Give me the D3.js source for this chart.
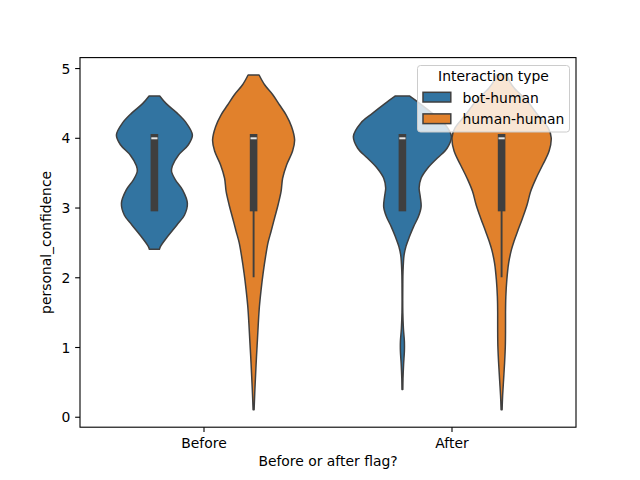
<!DOCTYPE html>
<html>
<head>
<meta charset="utf-8">
<script src="https://cdn.jsdelivr.net/npm/d3@7"></script>
<style>
  body { margin: 0; background: #fff; }
  svg text { font-family: "DejaVu Sans", sans-serif; }
</style>
</head>
<body>
<svg id="viz" width="640" height="480"></svg>
<script>
/* Data */

const groups = ['Before', 'After'];
const hues = ['bot-human', 'human-human'];
const yTicks = [0, 1, 2, 3, 4, 5];

// violin profiles: [value, relative density]
const beforeBot = [
  [4.60, 0.107], [4.49, 0.238], [4.35, 0.464], [4.21, 0.645], [4.04, 0.766],
  [3.90, 0.685], [3.75, 0.484], [3.60, 0.363], [3.52, 0.345], [3.40, 0.42],
  [3.25, 0.57], [3.06, 0.665], [2.89, 0.605], [2.75, 0.454], [2.58, 0.262],
  [2.44, 0.121], [2.40, 0.101],
];
const beforeHuman = [
  [4.90, 0.111], [4.76, 0.222], [4.62, 0.383], [4.47, 0.524], [4.33, 0.655],
  [4.16, 0.766], [3.97, 0.827], [3.81, 0.786], [3.61, 0.665], [3.42, 0.585],
  [3.23, 0.554], [3.04, 0.494], [2.85, 0.423], [2.66, 0.353], [2.50, 0.292],
  [2.30, 0.242], [2.06, 0.192], [1.82, 0.151], [1.58, 0.117], [1.34, 0.095],
  [1.10, 0.077], [0.86, 0.058], [0.63, 0.042], [0.39, 0.026], [0.10, 0.010],
];
const afterBot = [
  [4.60, 0.141], [4.49, 0.353], [4.35, 0.605], [4.21, 0.841], [4.02, 0.988],
  [3.85, 0.901], [3.71, 0.706], [3.56, 0.504], [3.42, 0.377], [3.28, 0.337],
  [3.16, 0.359], [3.01, 0.377], [2.87, 0.323], [2.73, 0.228], [2.58, 0.141],
  [2.44, 0.071], [2.32, 0.034], [2.08, 0.012], [1.90, 0.008], [1.50, 0.008],
  [1.27, 0.02], [1.08, 0.04], [0.94, 0.04], [0.75, 0.024], [0.55, 0.012],
  [0.39, 0.008],
];
const afterHuman = [
  [4.90, 0.111], [4.81, 0.161], [4.71, 0.258], [4.52, 0.524], [4.33, 0.726],
  [4.14, 0.942], [4.00, 1.0], [3.81, 0.958], [3.61, 0.827], [3.42, 0.696],
  [3.23, 0.585], [3.04, 0.514], [2.85, 0.423], [2.66, 0.323], [2.52, 0.252],
  [2.40, 0.2], [2.20, 0.141], [1.96, 0.105], [1.72, 0.085], [1.49, 0.079],
  [1.25, 0.079], [1.01, 0.075], [0.77, 0.06], [0.53, 0.04], [0.29, 0.02],
  [0.10, 0.01],
];

// box stats per violin (Before bot, Before human, After bot, After human)
const q1 = [3, 3, 3, 3];
const medians = [4, 4, 4, 4];
const q3 = [4, 4, 4, 4];
const whiskerLow = [3, 2, 3, 2];
const whiskerHigh = [4, 4, 4, 4];

const violins = [
  { group: 'Before', hue: 'bot-human', profile: beforeBot },
  { group: 'Before', hue: 'human-human', profile: beforeHuman },
  { group: 'After', hue: 'bot-human', profile: afterBot },
  { group: 'After', hue: 'human-human', profile: afterHuman },
].map((d, i) => ({ ...d, q1: q1[i], med: medians[i], q3: q3[i], lo: whiskerLow[i], hi: whiskerHigh[i] }));

/* Visualization */

const margin = { left: 80, right: 64, top: 57.6, bottom: 52.8 };
const width = 640 - margin.left - margin.right;
const height = 480 - margin.top - margin.bottom;

const svg = d3.select('#viz');
const fs = 13.9;
const lineColor = '#3f3f3f';

const colors = d3.scaleOrdinal().domain(hues).range(['#3274a1', '#e1812c']);

// prepare x scale
const xScale = d3.scaleBand().domain(groups).range([margin.left, margin.left + width]).padding(0);
const bw = xScale.bandwidth();

// hue dodge
const hueScale = d3.scaleBand().domain(hues).range([-0.4 * bw, 0.4 * bw]);
const wScale = d3.scaleLinear().domain([0, 1]).range([0, hueScale.bandwidth() / 2]);

// prepare y scale
const yScale = d3.scaleLinear().domain([-0.15, 5.15]).range([margin.top + height, margin.top]);

const cx = (d) => xScale(d.group) + bw / 2 + hueScale(d.hue) + hueScale.bandwidth() / 2;

// violins
const plot = svg.append('g');
violins.forEach((d) => {
  const c = cx(d);
  const area = d3
    .area()
    .curve(d3.curveCatmullRom)
    .y((p) => yScale(p[0]))
    .x0((p) => c - wScale(p[1]))
    .x1((p) => c + wScale(p[1]));

  plot
    .append('path')
    .attr('d', area(d.profile))
    .attr('fill', colors(d.hue))
    .attr('stroke', lineColor)
    .attr('stroke-width', 1.5)
    .attr('stroke-linejoin', 'round');

  // whisker
  plot
    .append('line')
    .attr('x1', c)
    .attr('x2', c)
    .attr('y1', yScale(d.lo))
    .attr('y2', yScale(d.hi))
    .attr('stroke', lineColor)
    .attr('stroke-width', 1.9);

  // box
  plot
    .append('line')
    .attr('x1', c)
    .attr('x2', c)
    .attr('y1', yScale(d.q1))
    .attr('y2', yScale(d.q3))
    .attr('stroke', lineColor)
    .attr('stroke-width', 7.6)
    .attr('stroke-linecap', 'square');

  // median
  plot
    .append('line')
    .attr('x1', c - 3.1)
    .attr('x2', c + 3.1)
    .attr('y1', yScale(d.med) + 0.5)
    .attr('y2', yScale(d.med) + 0.5)
    .attr('stroke', '#e6e6e6')
    .attr('stroke-width', 2);
});

// apply y axis
const yAxis = svg
  .append('g')
  .attr('transform', 'translate(' + margin.left + ',0)')
  .call(
    d3
      .axisLeft(yScale)
      .tickValues(yTicks)
      .tickFormat(d3.format('d'))
      .tickSize(4.86)
      .tickPadding(4.86)
      .tickSizeOuter(0)
  );

// apply x axis
const xAxis = svg
  .append('g')
  .attr('transform', 'translate(0,' + (margin.top + height) + ')')
  .call(d3.axisBottom(xScale).tickSize(4.86).tickPadding(4.86).tickSizeOuter(0));

[xAxis, yAxis].forEach((a) => {
  a.select('.domain').remove();
  a.selectAll('line').attr('stroke', '#000').attr('stroke-width', 1.1);
  a.selectAll('text').attr('font-size', fs).attr('fill', '#000').style('font-family', 'DejaVu Sans');
});
yAxis.selectAll('text').attr('dy', '0.36em');
xAxis.selectAll('text').attr('dy', '0.82em');

// frame
svg
  .append('rect')
  .attr('x', margin.left)
  .attr('y', margin.top)
  .attr('width', width)
  .attr('height', height)
  .attr('fill', 'none')
  .attr('stroke', '#000')
  .attr('stroke-width', 1.1);

// axis labels
svg
  .append('text')
  .attr('x', margin.left + width / 2)
  .attr('y', 466)
  .attr('text-anchor', 'middle')
  .attr('font-size', fs)
  .text('Before or after flag?');

svg
  .append('text')
  .attr('transform', 'translate(50.6,' + (margin.top + height / 2) + ') rotate(-90)')
  .attr('text-anchor', 'middle')
  .attr('font-size', fs)
  .text('personal_confidence');

// legend
const legend = svg.append('g');
legend
  .append('rect')
  .attr('x', 417.5)
  .attr('y', 65.5)
  .attr('width', 152)
  .attr('height', 66.5)
  .attr('rx', 3)
  .attr('fill', '#fff')
  .attr('fill-opacity', 0.8)
  .attr('stroke', '#cccccc')
  .attr('stroke-width', 1);

legend
  .append('text')
  .attr('x', 493.5)
  .attr('y', 80.5)
  .attr('text-anchor', 'middle')
  .attr('font-size', fs)
  .text('Interaction type');

hues.forEach((h, i) => {
  const y0 = 92.3 + i * 21.6;
  legend
    .append('rect')
    .attr('x', 423)
    .attr('y', y0)
    .attr('width', 27.8)
    .attr('height', 9.7)
    .attr('fill', colors(h))
    .attr('stroke', lineColor)
    .attr('stroke-width', 1.5);
  legend
    .append('text')
    .attr('x', 462.5)
    .attr('y', y0 + 10.2)
    .attr('font-size', fs)
    .text(h);
});
</script>
</body>
</html>
